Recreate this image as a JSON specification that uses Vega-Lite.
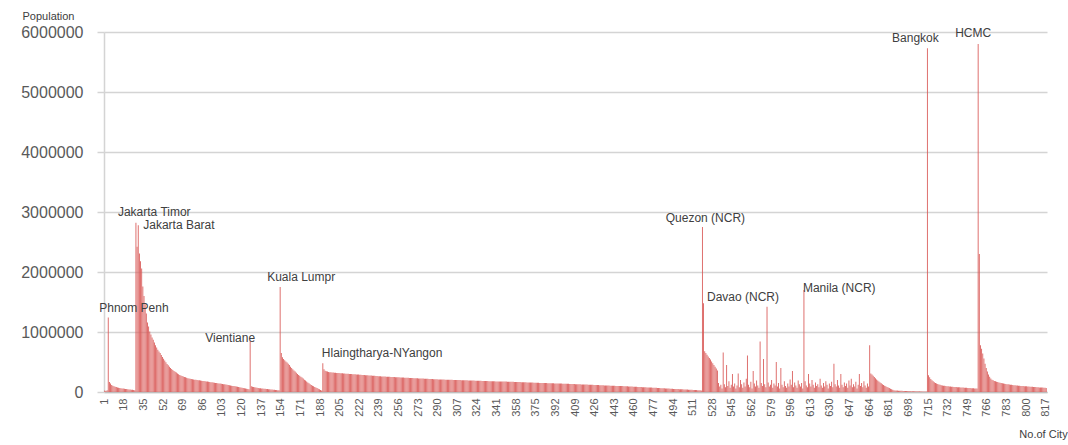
{
"$schema": "https://vega.github.io/schema/vega-lite/v6.json",
"width": 943, "height": 360,
"autosize": {"type": "none"},
"padding": {"left": 104, "top": 32, "right": 21, "bottom": 53},
"background": "white",
"config": {"view": {"stroke": null}, "font": "Liberation Sans"},
"datasets": {
"lab": [
{"c":4,"p":1240000,"t":"Phnom Penh"},
{"c":28,"p":2820000,"t":"Jakarta Timor"},
{"c":30,"p":2780000,"t":"Jakarta Barat"},
{"c":127,"p":850000,"t":"Vientiane"},
{"c":153,"p":1750000,"t":"Kuala Lumpr"},
{"c":190,"p":480000,"t":"Hlaingtharya-NYangon"},
{"c":519,"p":2750000,"t":"Quezon (NCR)"},
{"c":575,"p":1420000,"t":"Davao (NCR)"},
{"c":607,"p":1700000,"t":"Manila (NCR)"},
{"c":714,"p":5730000,"t":"Bangkok"},
{"c":758,"p":5800000,"t":"HCMC"}
],
"pop": [
{"c":1,"p":25000},{"c":2,"p":18000},{"c":3,"p":30000},{"c":4,"p":1240000},{"c":5,"p":165000},{"c":6,"p":140000},{"c":7,"p":118000},{"c":8,"p":104000},{"c":9,"p":95000},{"c":10,"p":88000},
{"c":11,"p":82000},{"c":12,"p":77000},{"c":13,"p":72000},{"c":14,"p":68000},{"c":15,"p":64000},{"c":16,"p":60000},{"c":17,"p":57000},{"c":18,"p":54000},{"c":19,"p":51000},{"c":20,"p":48000},
{"c":21,"p":46000},{"c":22,"p":43000},{"c":23,"p":41000},{"c":24,"p":38000},{"c":25,"p":36000},{"c":26,"p":33000},{"c":27,"p":30000},{"c":28,"p":2820000},{"c":29,"p":2420000},{"c":30,"p":2780000},
{"c":31,"p":2310000},{"c":32,"p":2180000},{"c":33,"p":2060000},{"c":34,"p":1760000},{"c":35,"p":1600000},{"c":36,"p":1460000},{"c":37,"p":1310000},{"c":38,"p":1160000},{"c":39,"p":1090000},{"c":40,"p":1010000},
{"c":41,"p":960000},{"c":42,"p":910000},{"c":43,"p":870000},{"c":44,"p":825000},{"c":45,"p":780000},{"c":46,"p":740000},{"c":47,"p":705000},{"c":48,"p":675000},{"c":49,"p":650000},{"c":50,"p":615000},
{"c":51,"p":585000},{"c":52,"p":555000},{"c":53,"p":525000},{"c":54,"p":495000},{"c":55,"p":468000},{"c":56,"p":445000},{"c":57,"p":422000},{"c":58,"p":402000},{"c":59,"p":384000},{"c":60,"p":368000},
{"c":61,"p":352000},{"c":62,"p":338000},{"c":63,"p":324000},{"c":64,"p":310000},{"c":65,"p":297000},{"c":66,"p":285000},{"c":67,"p":275000},{"c":68,"p":266000},{"c":69,"p":258000},{"c":70,"p":251000},
{"c":71,"p":244000},{"c":72,"p":237000},{"c":73,"p":231000},{"c":74,"p":225000},{"c":75,"p":220000},{"c":76,"p":216000},{"c":77,"p":212000},{"c":78,"p":209000},{"c":79,"p":206000},{"c":80,"p":203000},
{"c":81,"p":200000},{"c":82,"p":197000},{"c":83,"p":194000},{"c":84,"p":191000},{"c":85,"p":188000},{"c":86,"p":185000},{"c":87,"p":182000},{"c":88,"p":179000},{"c":89,"p":176000},{"c":90,"p":173000},
{"c":91,"p":170000},{"c":92,"p":167000},{"c":93,"p":164000},{"c":94,"p":161000},{"c":95,"p":158000},{"c":96,"p":155000},{"c":97,"p":152000},{"c":98,"p":149000},{"c":99,"p":146000},{"c":100,"p":143000},
{"c":101,"p":140000},{"c":102,"p":137000},{"c":103,"p":134000},{"c":104,"p":131000},{"c":105,"p":128000},{"c":106,"p":125000},{"c":107,"p":122000},{"c":108,"p":118000},{"c":109,"p":114000},{"c":110,"p":110000},
{"c":111,"p":106000},{"c":112,"p":102000},{"c":113,"p":98000},{"c":114,"p":94000},{"c":115,"p":90000},{"c":116,"p":86000},{"c":117,"p":82000},{"c":118,"p":78000},{"c":119,"p":74000},{"c":120,"p":70000},
{"c":121,"p":66000},{"c":122,"p":62000},{"c":123,"p":58000},{"c":124,"p":54000},{"c":125,"p":50000},{"c":126,"p":46000},{"c":127,"p":850000},{"c":128,"p":95000},{"c":129,"p":88000},{"c":130,"p":82000},
{"c":131,"p":78000},{"c":132,"p":74000},{"c":133,"p":70000},{"c":134,"p":67000},{"c":135,"p":64000},{"c":136,"p":61000},{"c":137,"p":59000},{"c":138,"p":57000},{"c":139,"p":55000},{"c":140,"p":53000},
{"c":141,"p":51000},{"c":142,"p":49000},{"c":143,"p":47000},{"c":144,"p":45000},{"c":145,"p":43000},{"c":146,"p":41000},{"c":147,"p":39000},{"c":148,"p":37000},{"c":149,"p":35000},{"c":150,"p":33000},
{"c":151,"p":31000},{"c":152,"p":29000},{"c":153,"p":1750000},{"c":154,"p":650000},{"c":155,"p":580000},{"c":156,"p":550000},{"c":157,"p":530000},{"c":158,"p":510000},{"c":159,"p":490000},{"c":160,"p":470000},
{"c":161,"p":450000},{"c":162,"p":420000},{"c":163,"p":400000},{"c":164,"p":380000},{"c":165,"p":360000},{"c":166,"p":340000},{"c":167,"p":320000},{"c":168,"p":300000},{"c":169,"p":285000},{"c":170,"p":270000},
{"c":171,"p":255000},{"c":172,"p":240000},{"c":173,"p":225000},{"c":174,"p":205000},{"c":175,"p":190000},{"c":176,"p":175000},{"c":177,"p":160000},{"c":178,"p":145000},{"c":179,"p":130000},{"c":180,"p":118000},
{"c":181,"p":105000},{"c":182,"p":95000},{"c":183,"p":85000},{"c":184,"p":75000},{"c":185,"p":65000},{"c":186,"p":55000},{"c":187,"p":45000},{"c":188,"p":35000},{"c":189,"p":25000},{"c":190,"p":480000},
{"c":191,"p":380000},{"c":192,"p":356000},{"c":193,"p":346000},{"c":194,"p":340000},{"c":195,"p":335000},{"c":196,"p":331000},{"c":197,"p":328000},{"c":198,"p":326000},{"c":199,"p":324000},{"c":200,"p":322000},
{"c":201,"p":320000},{"c":202,"p":318000},{"c":203,"p":317000},{"c":204,"p":315000},{"c":205,"p":314000},{"c":206,"p":312000},{"c":207,"p":311000},{"c":208,"p":309000},{"c":209,"p":308000},{"c":210,"p":306000},
{"c":211,"p":305000},{"c":212,"p":303000},{"c":213,"p":302000},{"c":214,"p":300000},{"c":215,"p":299000},{"c":216,"p":297000},{"c":217,"p":296000},{"c":218,"p":294000},{"c":219,"p":293000},{"c":220,"p":291000},
{"c":221,"p":290000},{"c":222,"p":288000},{"c":223,"p":287000},{"c":224,"p":285000},{"c":225,"p":284000},{"c":226,"p":282000},{"c":227,"p":281000},{"c":228,"p":279000},{"c":229,"p":278000},{"c":230,"p":276000},
{"c":231,"p":275000},{"c":232,"p":273000},{"c":233,"p":272000},{"c":234,"p":270000},{"c":235,"p":269000},{"c":236,"p":267000},{"c":237,"p":266000},{"c":238,"p":264000},{"c":239,"p":263000},{"c":240,"p":261000},
{"c":241,"p":260000},{"c":242,"p":259000},{"c":243,"p":258000},{"c":244,"p":257000},{"c":245,"p":256000},{"c":246,"p":255000},{"c":247,"p":254000},{"c":248,"p":253000},{"c":249,"p":252000},{"c":250,"p":250000},
{"c":251,"p":249000},{"c":252,"p":248000},{"c":253,"p":247000},{"c":254,"p":246000},{"c":255,"p":245000},{"c":256,"p":244000},{"c":257,"p":243000},{"c":258,"p":242000},{"c":259,"p":241000},{"c":260,"p":240000},
{"c":261,"p":239000},{"c":262,"p":238000},{"c":263,"p":237000},{"c":264,"p":236000},{"c":265,"p":235000},{"c":266,"p":234000},{"c":267,"p":233000},{"c":268,"p":232000},{"c":269,"p":231000},{"c":270,"p":230000},
{"c":271,"p":229000},{"c":272,"p":228000},{"c":273,"p":227000},{"c":274,"p":226000},{"c":275,"p":225000},{"c":276,"p":224000},{"c":277,"p":223000},{"c":278,"p":222000},{"c":279,"p":221000},{"c":280,"p":220000},
{"c":281,"p":219000},{"c":282,"p":218000},{"c":283,"p":217000},{"c":284,"p":216000},{"c":285,"p":215000},{"c":286,"p":214000},{"c":287,"p":213000},{"c":288,"p":212000},{"c":289,"p":211000},{"c":290,"p":210000},
{"c":291,"p":209000},{"c":292,"p":208000},{"c":293,"p":208000},{"c":294,"p":207000},{"c":295,"p":207000},{"c":296,"p":206000},{"c":297,"p":206000},{"c":298,"p":205000},{"c":299,"p":205000},{"c":300,"p":204000},
{"c":301,"p":203000},{"c":302,"p":203000},{"c":303,"p":202000},{"c":304,"p":201000},{"c":305,"p":201000},{"c":306,"p":200000},{"c":307,"p":199000},{"c":308,"p":199000},{"c":309,"p":198000},{"c":310,"p":197000},
{"c":311,"p":197000},{"c":312,"p":196000},{"c":313,"p":195000},{"c":314,"p":195000},{"c":315,"p":194000},{"c":316,"p":193000},{"c":317,"p":193000},{"c":318,"p":192000},{"c":319,"p":191000},{"c":320,"p":191000},
{"c":321,"p":190000},{"c":322,"p":189000},{"c":323,"p":189000},{"c":324,"p":188000},{"c":325,"p":187000},{"c":326,"p":187000},{"c":327,"p":186000},{"c":328,"p":185000},{"c":329,"p":185000},{"c":330,"p":184000},
{"c":331,"p":183000},{"c":332,"p":183000},{"c":333,"p":182000},{"c":334,"p":181000},{"c":335,"p":181000},{"c":336,"p":180000},{"c":337,"p":179000},{"c":338,"p":179000},{"c":339,"p":178000},{"c":340,"p":177000},
{"c":341,"p":177000},{"c":342,"p":176000},{"c":343,"p":176000},{"c":344,"p":175000},{"c":345,"p":175000},{"c":346,"p":174000},{"c":347,"p":174000},{"c":348,"p":173000},{"c":349,"p":173000},{"c":350,"p":172000},
{"c":351,"p":171000},{"c":352,"p":171000},{"c":353,"p":170000},{"c":354,"p":169000},{"c":355,"p":169000},{"c":356,"p":168000},{"c":357,"p":167000},{"c":358,"p":167000},{"c":359,"p":166000},{"c":360,"p":165000},
{"c":361,"p":165000},{"c":362,"p":164000},{"c":363,"p":163000},{"c":364,"p":163000},{"c":365,"p":162000},{"c":366,"p":161000},{"c":367,"p":160000},{"c":368,"p":159000},{"c":369,"p":159000},{"c":370,"p":158000},
{"c":371,"p":157000},{"c":372,"p":157000},{"c":373,"p":156000},{"c":374,"p":155000},{"c":375,"p":154000},{"c":376,"p":154000},{"c":377,"p":153000},{"c":378,"p":152000},{"c":379,"p":152000},{"c":380,"p":151000},
{"c":381,"p":150000},{"c":382,"p":149000},{"c":383,"p":149000},{"c":384,"p":148000},{"c":385,"p":147000},{"c":386,"p":147000},{"c":387,"p":146000},{"c":388,"p":145000},{"c":389,"p":145000},{"c":390,"p":144000},
{"c":391,"p":143000},{"c":392,"p":143000},{"c":393,"p":142000},{"c":394,"p":141000},{"c":395,"p":141000},{"c":396,"p":140000},{"c":397,"p":140000},{"c":398,"p":139000},{"c":399,"p":139000},{"c":400,"p":138000},
{"c":401,"p":137000},{"c":402,"p":136000},{"c":403,"p":136000},{"c":404,"p":135000},{"c":405,"p":134000},{"c":406,"p":133000},{"c":407,"p":133000},{"c":408,"p":132000},{"c":409,"p":131000},{"c":410,"p":130000},
{"c":411,"p":129000},{"c":412,"p":129000},{"c":413,"p":128000},{"c":414,"p":127000},{"c":415,"p":126000},{"c":416,"p":125000},{"c":417,"p":125000},{"c":418,"p":124000},{"c":419,"p":123000},{"c":420,"p":122000},
{"c":421,"p":121000},{"c":422,"p":120000},{"c":423,"p":120000},{"c":424,"p":119000},{"c":425,"p":118000},{"c":426,"p":117000},{"c":427,"p":116000},{"c":428,"p":115000},{"c":429,"p":115000},{"c":430,"p":114000},
{"c":431,"p":113000},{"c":432,"p":112000},{"c":433,"p":111000},{"c":434,"p":110000},{"c":435,"p":110000},{"c":436,"p":109000},{"c":437,"p":108000},{"c":438,"p":107000},{"c":439,"p":106000},{"c":440,"p":105000},
{"c":441,"p":105000},{"c":442,"p":104000},{"c":443,"p":103000},{"c":444,"p":102000},{"c":445,"p":101000},{"c":446,"p":101000},{"c":447,"p":100000},{"c":448,"p":99000},{"c":449,"p":99000},{"c":450,"p":98000},
{"c":451,"p":97000},{"c":452,"p":96000},{"c":453,"p":95000},{"c":454,"p":94000},{"c":455,"p":93000},{"c":456,"p":92000},{"c":457,"p":91000},{"c":458,"p":90000},{"c":459,"p":89000},{"c":460,"p":88000},
{"c":461,"p":87000},{"c":462,"p":86000},{"c":463,"p":85000},{"c":464,"p":84000},{"c":465,"p":83000},{"c":466,"p":82000},{"c":467,"p":81000},{"c":468,"p":80000},{"c":469,"p":79000},{"c":470,"p":78000},
{"c":471,"p":77000},{"c":472,"p":76000},{"c":473,"p":75000},{"c":474,"p":74000},{"c":475,"p":73000},{"c":476,"p":72000},{"c":477,"p":71000},{"c":478,"p":70000},{"c":479,"p":69000},{"c":480,"p":68000},
{"c":481,"p":67000},{"c":482,"p":66000},{"c":483,"p":64000},{"c":484,"p":63000},{"c":485,"p":62000},{"c":486,"p":61000},{"c":487,"p":60000},{"c":488,"p":59000},{"c":489,"p":58000},{"c":490,"p":57000},
{"c":491,"p":55000},{"c":492,"p":54000},{"c":493,"p":53000},{"c":494,"p":52000},{"c":495,"p":51000},{"c":496,"p":50000},{"c":497,"p":49000},{"c":498,"p":48000},{"c":499,"p":47000},{"c":500,"p":46000},
{"c":501,"p":45000},{"c":502,"p":44000},{"c":503,"p":43000},{"c":504,"p":42000},{"c":505,"p":41000},{"c":506,"p":40000},{"c":507,"p":39000},{"c":508,"p":38000},{"c":509,"p":37000},{"c":510,"p":36000},
{"c":511,"p":35000},{"c":512,"p":34000},{"c":513,"p":33000},{"c":514,"p":32000},{"c":515,"p":31000},{"c":516,"p":30000},{"c":517,"p":28000},{"c":518,"p":26000},{"c":519,"p":2750000},{"c":520,"p":1480000},
{"c":521,"p":680000},{"c":522,"p":650000},{"c":523,"p":620000},{"c":524,"p":590000},{"c":525,"p":565000},{"c":526,"p":540000},{"c":527,"p":510000},{"c":528,"p":480000},{"c":529,"p":450000},{"c":530,"p":420000},
{"c":531,"p":390000},{"c":532,"p":360000},{"c":533,"p":150000},{"c":534,"p":90000},{"c":535,"p":120000},{"c":536,"p":60000},{"c":537,"p":660000},{"c":538,"p":130000},{"c":539,"p":80000},{"c":540,"p":450000},
{"c":541,"p":100000},{"c":542,"p":180000},{"c":543,"p":70000},{"c":544,"p":120000},{"c":545,"p":300000},{"c":546,"p":90000},{"c":547,"p":140000},{"c":548,"p":60000},{"c":549,"p":110000},{"c":550,"p":310000},
{"c":551,"p":80000},{"c":552,"p":200000},{"c":553,"p":130000},{"c":554,"p":70000},{"c":555,"p":160000},{"c":556,"p":90000},{"c":557,"p":220000},{"c":558,"p":610000},{"c":559,"p":120000},{"c":560,"p":80000},
{"c":561,"p":170000},{"c":562,"p":60000},{"c":563,"p":350000},{"c":564,"p":140000},{"c":565,"p":90000},{"c":566,"p":190000},{"c":567,"p":110000},{"c":568,"p":70000},{"c":569,"p":840000},{"c":570,"p":150000},
{"c":571,"p":100000},{"c":572,"p":550000},{"c":573,"p":130000},{"c":574,"p":80000},{"c":575,"p":1420000},{"c":576,"p":160000},{"c":577,"p":90000},{"c":578,"p":120000},{"c":579,"p":200000},{"c":580,"p":70000},
{"c":581,"p":140000},{"c":582,"p":110000},{"c":583,"p":500000},{"c":584,"p":90000},{"c":585,"p":150000},{"c":586,"p":60000},{"c":587,"p":400000},{"c":588,"p":120000},{"c":589,"p":80000},{"c":590,"p":180000},
{"c":591,"p":100000},{"c":592,"p":70000},{"c":593,"p":140000},{"c":594,"p":90000},{"c":595,"p":210000},{"c":596,"p":120000},{"c":597,"p":350000},{"c":598,"p":80000},{"c":599,"p":160000},{"c":600,"p":110000},
{"c":601,"p":70000},{"c":602,"p":190000},{"c":603,"p":130000},{"c":604,"p":90000},{"c":605,"p":150000},{"c":606,"p":60000},{"c":607,"p":1700000},{"c":608,"p":180000},{"c":609,"p":110000},{"c":610,"p":80000},
{"c":611,"p":300000},{"c":612,"p":140000},{"c":613,"p":90000},{"c":614,"p":200000},{"c":615,"p":120000},{"c":616,"p":70000},{"c":617,"p":160000},{"c":618,"p":100000},{"c":619,"p":130000},{"c":620,"p":80000},
{"c":621,"p":220000},{"c":622,"p":110000},{"c":623,"p":70000},{"c":624,"p":150000},{"c":625,"p":90000},{"c":626,"p":180000},{"c":627,"p":120000},{"c":628,"p":60000},{"c":629,"p":140000},{"c":630,"p":100000},
{"c":631,"p":170000},{"c":632,"p":80000},{"c":633,"p":470000},{"c":634,"p":130000},{"c":635,"p":90000},{"c":636,"p":200000},{"c":637,"p":110000},{"c":638,"p":70000},{"c":639,"p":300000},{"c":640,"p":120000},
{"c":641,"p":80000},{"c":642,"p":160000},{"c":643,"p":100000},{"c":644,"p":140000},{"c":645,"p":70000},{"c":646,"p":190000},{"c":647,"p":110000},{"c":648,"p":220000},{"c":649,"p":80000},{"c":650,"p":130000},
{"c":651,"p":90000},{"c":652,"p":170000},{"c":653,"p":60000},{"c":654,"p":120000},{"c":655,"p":300000},{"c":656,"p":100000},{"c":657,"p":150000},{"c":658,"p":80000},{"c":659,"p":180000},{"c":660,"p":110000},
{"c":661,"p":70000},{"c":662,"p":140000},{"c":663,"p":90000},{"c":664,"p":780000},{"c":665,"p":310000},{"c":666,"p":290000},{"c":667,"p":270000},{"c":668,"p":250000},{"c":669,"p":230000},{"c":670,"p":210000},
{"c":671,"p":190000},{"c":672,"p":175000},{"c":673,"p":160000},{"c":674,"p":145000},{"c":675,"p":130000},{"c":676,"p":118000},{"c":677,"p":105000},{"c":678,"p":95000},{"c":679,"p":85000},{"c":680,"p":75000},
{"c":681,"p":65000},{"c":682,"p":55000},{"c":683,"p":45000},{"c":684,"p":38000},{"c":685,"p":30000},{"c":686,"p":25000},{"c":687,"p":24000},{"c":688,"p":23000},{"c":689,"p":22000},{"c":690,"p":21000},
{"c":691,"p":20000},{"c":692,"p":19000},{"c":693,"p":18000},{"c":694,"p":18000},{"c":695,"p":17000},{"c":696,"p":16000},{"c":697,"p":16000},{"c":698,"p":15000},{"c":699,"p":15000},{"c":700,"p":14000},
{"c":701,"p":14000},{"c":702,"p":13000},{"c":703,"p":13000},{"c":704,"p":12000},{"c":705,"p":12000},{"c":706,"p":11000},{"c":707,"p":11000},{"c":708,"p":10000},{"c":709,"p":10000},{"c":710,"p":10000},
{"c":711,"p":9000},{"c":712,"p":9000},{"c":713,"p":8000},{"c":714,"p":5730000},{"c":715,"p":280000},{"c":716,"p":245000},{"c":717,"p":215000},{"c":718,"p":195000},{"c":719,"p":178000},{"c":720,"p":162000},
{"c":721,"p":150000},{"c":722,"p":140000},{"c":723,"p":132000},{"c":724,"p":125000},{"c":725,"p":119000},{"c":726,"p":114000},{"c":727,"p":110000},{"c":728,"p":106000},{"c":729,"p":103000},{"c":730,"p":100000},
{"c":731,"p":97000},{"c":732,"p":95000},{"c":733,"p":93000},{"c":734,"p":91000},{"c":735,"p":89000},{"c":736,"p":87000},{"c":737,"p":85000},{"c":738,"p":84000},{"c":739,"p":82000},{"c":740,"p":81000},
{"c":741,"p":79000},{"c":742,"p":78000},{"c":743,"p":76000},{"c":744,"p":75000},{"c":745,"p":74000},{"c":746,"p":72000},{"c":747,"p":71000},{"c":748,"p":70000},{"c":749,"p":68000},{"c":750,"p":67000},
{"c":751,"p":66000},{"c":752,"p":64000},{"c":753,"p":63000},{"c":754,"p":62000},{"c":755,"p":60000},{"c":756,"p":59000},{"c":757,"p":57000},{"c":758,"p":5800000},{"c":759,"p":2300000},{"c":760,"p":780000},
{"c":761,"p":720000},{"c":762,"p":640000},{"c":763,"p":560000},{"c":764,"p":470000},{"c":765,"p":400000},{"c":766,"p":340000},{"c":767,"p":290000},{"c":768,"p":255000},{"c":769,"p":225000},{"c":770,"p":205000},
{"c":771,"p":195000},{"c":772,"p":185000},{"c":773,"p":178000},{"c":774,"p":172000},{"c":775,"p":166000},{"c":776,"p":160000},{"c":777,"p":155000},{"c":778,"p":150000},{"c":779,"p":146000},{"c":780,"p":142000},
{"c":781,"p":138000},{"c":782,"p":134000},{"c":783,"p":131000},{"c":784,"p":128000},{"c":785,"p":125000},{"c":786,"p":122000},{"c":787,"p":119000},{"c":788,"p":116000},{"c":789,"p":114000},{"c":790,"p":112000},
{"c":791,"p":110000},{"c":792,"p":108000},{"c":793,"p":106000},{"c":794,"p":104000},{"c":795,"p":102000},{"c":796,"p":100000},{"c":797,"p":98000},{"c":798,"p":97000},{"c":799,"p":95000},{"c":800,"p":94000},
{"c":801,"p":92000},{"c":802,"p":91000},{"c":803,"p":89000},{"c":804,"p":88000},{"c":805,"p":86000},{"c":806,"p":85000},{"c":807,"p":83000},{"c":808,"p":82000},{"c":809,"p":80000},{"c":810,"p":79000},
{"c":811,"p":77000},{"c":812,"p":76000},{"c":813,"p":74000},{"c":814,"p":73000},{"c":815,"p":71000},{"c":816,"p":70000},{"c":817,"p":68000}
]
},
"encoding": {
  "x": {"field": "c", "type": "ordinal"},
  "y": {"field": "p", "type": "quantitative"}
},
"layer": [
{
  "data": {"name": "pop"},
  "mark": {"type": "bar", "color": "#d95a58"},
  "encoding": {
    "x": {"field": "c", "type": "ordinal", "scale": {"paddingInner": 0.25, "paddingOuter": 0.3},
      "axis": {"values": [1,18,35,52,69,86,103,120,137,154,171,188,205,222,239,256,273,290,307,324,341,358,375,392,409,426,443,460,477,494,511,528,545,562,579,596,613,630,647,664,681,698,715,732,749,766,783,800,817],
        "labelAngle": -90, "labelFontSize": 11, "labelColor": "#595959", "labelOverlap": false, "labelPadding": 6,
        "ticks": false, "domain": true, "domainColor": "#bfbfbf", "domainWidth": 1.5, "grid": false,
        "title": "No.of City", "titleX": 939, "titleY": 42, "titleAlign": "center", "titleBaseline": "middle",
        "titleAnchor": null, "titleFontSize": 11, "titleFontWeight": "normal", "titleColor": "#404040"}},
    "y": {"field": "p", "type": "quantitative", "scale": {"domain": [0, 6000000], "nice": false},
      "axis": {"values": [0,1000000,2000000,3000000,4000000,5000000,6000000], "format": "d",
        "labelFontSize": 16, "labelColor": "#595959", "labelPadding": 14,
        "tickSize": 7, "tickColor": "#d4d4d4", "tickWidth": 1.5, "domainColor": "#d4d4d4", "domainWidth": 1.5,
        "grid": true, "gridColor": "#d4d4d4", "gridWidth": 1.5,
        "title": "Population", "titleAngle": 0, "titleX": -56, "titleY": -16, "titleAlign": "center", "titleBaseline": "middle",
        "titleAnchor": null, "titleFontSize": 11, "titleFontWeight": "normal", "titleColor": "#404040"}}
  }
},
{"data": {"name": "lab"}, "transform": [{"filter": "datum.t == 'Phnom Penh'"}], "mark": {"type": "text", "align": "left", "baseline": "middle", "dx": -9, "dy": -10, "fontSize": 12, "color": "#404040"}, "encoding": {"text": {"field": "t"}}},
{"data": {"name": "lab"}, "transform": [{"filter": "datum.t == 'Jakarta Timor'"}], "mark": {"type": "text", "align": "left", "baseline": "middle", "dx": -18, "dy": -11, "fontSize": 12, "color": "#404040"}, "encoding": {"text": {"field": "t"}}},
{"data": {"name": "lab"}, "transform": [{"filter": "datum.t == 'Jakarta Barat'"}], "mark": {"type": "text", "align": "left", "baseline": "middle", "dx": 5, "dy": 0, "fontSize": 12, "color": "#404040"}, "encoding": {"text": {"field": "t"}}},
{"data": {"name": "lab"}, "transform": [{"filter": "datum.t == 'Vientiane'"}], "mark": {"type": "text", "align": "center", "baseline": "middle", "dx": -20, "dy": -3, "fontSize": 12, "color": "#404040"}, "encoding": {"text": {"field": "t"}}},
{"data": {"name": "lab"}, "transform": [{"filter": "datum.t == 'Kuala Lumpr'"}], "mark": {"type": "text", "align": "left", "baseline": "middle", "dx": -13, "dy": -10, "fontSize": 12, "color": "#404040"}, "encoding": {"text": {"field": "t"}}},
{"data": {"name": "lab"}, "transform": [{"filter": "datum.t == 'Hlaingtharya-NYangon'"}], "mark": {"type": "text", "align": "left", "baseline": "middle", "dx": -1, "dy": -10, "fontSize": 12, "color": "#404040"}, "encoding": {"text": {"field": "t"}}},
{"data": {"name": "lab"}, "transform": [{"filter": "datum.t == 'Quezon (NCR)'"}], "mark": {"type": "text", "align": "center", "baseline": "middle", "dx": 3, "dy": -9, "fontSize": 12, "color": "#404040"}, "encoding": {"text": {"field": "t"}}},
{"data": {"name": "lab"}, "transform": [{"filter": "datum.t == 'Davao (NCR)'"}], "mark": {"type": "text", "align": "center", "baseline": "middle", "dx": -24, "dy": -10, "fontSize": 12, "color": "#404040"}, "encoding": {"text": {"field": "t"}}},
{"data": {"name": "lab"}, "transform": [{"filter": "datum.t == 'Manila (NCR)'"}], "mark": {"type": "text", "align": "left", "baseline": "middle", "dx": -1, "dy": -2, "fontSize": 12, "color": "#404040"}, "encoding": {"text": {"field": "t"}}},
{"data": {"name": "lab"}, "transform": [{"filter": "datum.t == 'Bangkok'"}], "mark": {"type": "text", "align": "center", "baseline": "middle", "dx": -12, "dy": -10, "fontSize": 12, "color": "#404040"}, "encoding": {"text": {"field": "t"}}},
{"data": {"name": "lab"}, "transform": [{"filter": "datum.t == 'HCMC'"}], "mark": {"type": "text", "align": "center", "baseline": "middle", "dx": -5, "dy": -11, "fontSize": 12, "color": "#404040"}, "encoding": {"text": {"field": "t"}}}
]
}
